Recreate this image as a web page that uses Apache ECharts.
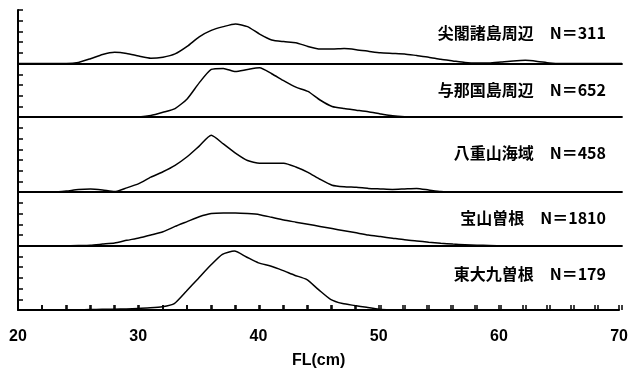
<!DOCTYPE html>
<html><head><meta charset="utf-8">
<script src="https://cdn.jsdelivr.net/npm/echarts@6/dist/echarts.min.js"></script>
<style>html,body{margin:0;padding:0;background:#fff}#c{width:631px;height:374px}</style>
</head><body><div id="c"></div>
<script>
// Fork length classes (cm)
const lengthsCm = [20,21,22,23,24,25,26,27,28,29,30,31,32,33,34,35,36,37,38,39,40,41,42,43,44,45,46,47,48,49,50,51,52,53,54,55,56,57,58,59,60,61,62,63,64,65,66,67,68,69,70];
const xTickLabels = [20,30,40,50,60,70];
const regions = ['尖閣諸島周辺','与那国島周辺','八重山海域','宝山曽根','東大九曽根'];
const sampleN = [311,652,458,1810,179];
// relative frequency (in tick units of the left axis)
const senkaku = [0,0,0,0,0,0.1,0.45,0.85,1.05,0.95,
  0.7,0.5,0.6,0.9,1.6,2.5,3.1,3.45,3.7,3.45,
  2.75,2.2,2.05,1.95,1.6,1.35,1.35,1.4,1.3,1.15,
  1.0,0.95,0.9,0.75,0.6,0.4,0.25,0.1,0.05,0.05,
  0.15,0.25,0.3,0.2,0.05,0,0,0,0,0,
  0];
const yonaguni = [0,0,0,0,0,0,0,0,0,0,
  0.02,0.15,0.45,0.8,1.7,3.2,4.45,4.55,4.25,4.45,
  4.6,4.05,3.4,2.8,2.4,1.6,1.0,0.8,0.65,0.5,
  0.3,0.12,0.03,0,0,0,0,0,0,0,
  0,0,0,0,0,0,0,0,0,0,
  0];
const yaeyama = [0,0,0,0,0.1,0.25,0.3,0.2,0.05,0.4,
  0.8,1.4,1.9,2.5,3.3,4.3,5.3,4.5,3.65,2.95,
  2.7,2.7,2.7,2.35,1.85,1.2,0.65,0.5,0.45,0.35,
  0.3,0.25,0.3,0.35,0.2,0.05,0,0,0,0,
  0,0,0,0,0,0,0,0,0,0,
  0];
const takarayama = [0,0,0,0,0,0.02,0.05,0.15,0.25,0.5,
  0.72,1.0,1.3,1.8,2.25,2.7,3.0,3.05,3.05,3.0,
  2.9,2.65,2.4,2.2,2.0,1.8,1.6,1.4,1.2,1.0,
  0.85,0.7,0.55,0.45,0.32,0.22,0.15,0.1,0.05,0.02,
  0,0,0,0,0,0,0,0,0,0,
  0];
const higashi = [0,0,0,0,0,0.02,0.04,0.06,0.08,0.1,
  0.15,0.2,0.3,0.6,1.75,2.95,4.15,5.2,5.5,4.95,
  4.4,4.1,3.7,3.25,2.85,1.9,1.0,0.6,0.42,0.25,
  0.08,0.02,0,0,0,0,0,0,0,0,
  0,0,0,0,0,0,0,0,0,0,
  0];
const panelValues = [senkaku, yonaguni, yaeyama, takarayama, higashi];
const panelTicks = [5,5,7,5,6];

(function () {
  // layout
  const plotTop = 10, plotBottom = 310, tickLen = 5;
  const unitPx = (plotBottom - plotTop) / panelTicks.reduce((a,b)=>a+b,0);
  const labelY = [33, 90, 153, 218, 274];
  const FONT = '"Noto Sans CJK JP", "Noto Sans", sans-serif';
  const LATIN = '"Liberation Sans", Arial, sans-serif';

  const grids = [], xAxes = [], yAxes = [], series = [], graphics = [];
  // thin strip just above the bottom axis: its split lines act as inward x ticks every 2 cm
  grids.push({left: 18, right: 9, top: plotBottom - tickLen, height: tickLen});
  xAxes.push({
    gridIndex: 0, type: 'value', min: 20, max: 70, interval: 2, z: 10,
    axisLine: {show: false}, axisTick: {show: false}, axisLabel: {show: false},
    splitLine: {show: true, lineStyle: {color: '#000', width: 1.5}}
  });
  yAxes.push({gridIndex: 0, type: 'value', min: 0, max: 1, show: false});

  let gTop = plotTop;
  panelValues.forEach((vals, k) => {
    const i = k + 1;
    const h = panelTicks[k] * unitPx;
    grids.push({left: 18, right: 9, top: gTop, height: h});
    gTop += h;
    const last = k === panelValues.length - 1;
    xAxes.push({
      gridIndex: i, type: 'value', min: 20, max: 70, interval: 2,
      axisLine: {show: true, onZero: false, lineStyle: {color: '#000', width: 1.8}},
      axisTick: {show: last, inside: true, length: tickLen, lineStyle: {color: '#000', width: 1.5}},
      axisLabel: {show: last, margin: 19, color: '#000', fontSize: 16, fontWeight: 'bold',
        fontFamily: LATIN,
        formatter: v => xTickLabels.includes(v) ? String(v) : ''},
      splitLine: {show: false},
      name: last ? 'FL(cm)' : '', nameLocation: 'middle', nameGap: 43,
      nameTextStyle: {color: '#000', fontSize: 16, fontWeight: 'bold', fontFamily: LATIN}
    });
    yAxes.push({
      gridIndex: i, type: 'value', min: 0, max: panelTicks[k], interval: 1,
      axisLine: {show: true, lineStyle: {color: '#000', width: 2}},
      axisTick: {show: true, inside: true, length: tickLen, lineStyle: {color: '#000', width: 1.5}},
      axisLabel: {show: false}, splitLine: {show: false}
    });
    series.push({
      type: 'line', xAxisIndex: i, yAxisIndex: i, showSymbol: false, smooth: 0.2,
      lineStyle: {color: '#000', width: 1.5},
      data: lengthsCm.map((x, j) => [x, vals[j]])
    });
    graphics.push({
      type: 'text', right: 25, top: labelY[k] - 8,
      style: {text: regions[k] + '　N＝' + sampleN[k], fill: '#000', font: 'bold 16px ' + FONT}
    });
  });

  const chart = echarts.init(document.getElementById('c'));
  chart.setOption({
    backgroundColor: '#fff',
    animation: false,
    grid: grids, xAxis: xAxes, yAxis: yAxes, series: series,
    graphic: graphics
  });
})();
</script></body></html>
